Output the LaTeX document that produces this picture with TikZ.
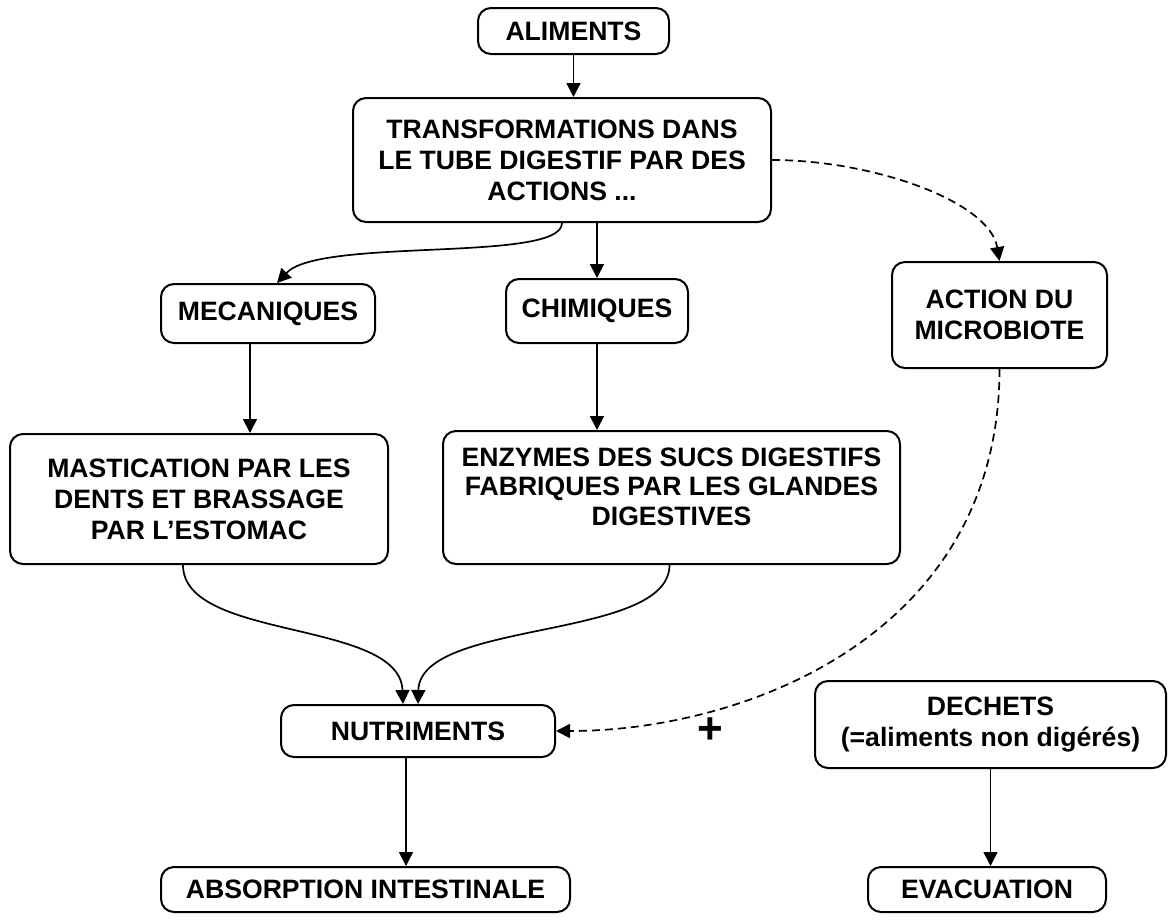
\documentclass[tikz,border=0pt]{standalone}
\usepackage{fontspec}
\setmainfont{Liberation Sans}
\usetikzlibrary{arrows.meta}
\begin{document}
\begin{tikzpicture}[x=1pt,y=-1pt,
  box/.style={draw, line width=2pt, rounded corners=13pt, inner sep=0pt, align=center,
    font=\fontsize{26.6}{31}\selectfont\bfseries},
  arr/.style={line width=1.7pt, -{Triangle[length=14pt,width=14pt]}},
  darr/.style={arr, dash pattern=on 8pt off 5pt}]
\useasboundingbox (0,0) rectangle (1168,922);
\node[box, minimum width=191, minimum height=46] (alim) at (573.5,31) {ALIMENTS};
\node[box, minimum width=418, minimum height=124] (trans) at (562,160)
  {TRANSFORMATIONS DANS\\LE TUBE DIGESTIF PAR DES\\ACTIONS ...};
\node[box, minimum width=214, minimum height=59] (meca) at (268,313.5) {MECANIQUES};
\node[box, minimum width=182, minimum height=64] (chim) at (597,311) {CHIMIQUES};
\node[box, minimum width=215, minimum height=106] (action) at (999.5,315)
  {ACTION DU\\MICROBIOTE};
\node[box, minimum width=378, minimum height=130] (mast) at (199,499)
  {MASTICATION PAR LES\\DENTS ET BRASSAGE\\PAR L’ESTOMAC};
\node[box, minimum width=457, minimum height=133] (enz) at (671.5,497.5)
  {\raisebox{8pt}[\height][\depth]{\begin{tabular}{@{}c@{}}ENZYMES DES SUCS DIGESTIFS\\[-1.5pt]FABRIQUES PAR LES GLANDES\\[-1.5pt]DIGESTIVES\end{tabular}}};
\node[box, minimum width=274, minimum height=52] (nutr) at (418,731) {NUTRIMENTS};
\node[box, minimum width=351, minimum height=87] (dech) at (990.5,724.5)
  {DECHETS\\(=aliments non digérés)};
\node[box, minimum width=409, minimum height=45] (absorp) at (365.5,889.5) {ABSORPTION INTESTINALE};
\node[box, minimum width=238, minimum height=45] (evac) at (987,889.5) {EVACUATION};
\node[font=\fontsize{44}{44}\selectfont\bfseries] (plus) at (710,731) {+};

\draw[arr] (alim.south) -- (alim.south |- trans.north);
\draw[arr] (trans.south) .. controls +(0,40) and +(43,-46) .. ([xshift=9pt]meca.north);
\draw[arr] (trans.south -| chim.north) -- (chim.north);
\draw[darr] (trans.east) .. controls +(100,0) and +(-10,-60) .. (action.north);
\draw[arr] ([xshift=-18pt]meca.south) -- ([xshift=-18pt]meca.south |- mast.north);
\draw[arr] (chim.south) -- (chim.south |- enz.north);
\draw[arr] ([xshift=-16pt]mast.south) .. controls +(0,76) and +(-3,-85) .. ([xshift=-15pt]nutr.north);
\draw[arr] ([xshift=-2pt]enz.south) .. controls +(0,76) and +(2,-85) .. (nutr.north);
\draw[darr] (action.south) .. controls +(0,265) and +(190,0) .. (nutr.east);
\draw[arr] ([xshift=-12pt]nutr.south) -- ([xshift=-12pt]nutr.south |- absorp.north);
\draw[arr] (dech.south) -- (dech.south |- evac.north);
\end{tikzpicture}
\end{document}
